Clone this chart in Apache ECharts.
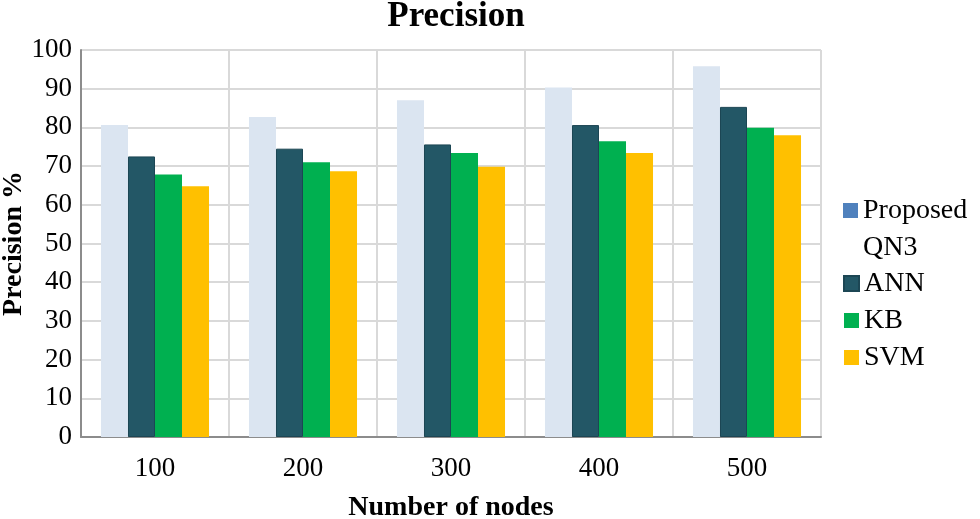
<!DOCTYPE html>
<html><head><meta charset="utf-8">
<script src="https://cdn.jsdelivr.net/npm/echarts@6/dist/echarts.min.js"></script>
<style>html,body{margin:0;padding:0;background:#fff}#c{width:980px;height:519px}</style>
</head><body><div id="c"></div>
<script>
const categories = ['100','200','300','400','500'];
const seriesNames = ['Proposed QN3','ANN','KB','SVM'];
const proposed = [80.6, 82.7, 87, 90.3, 95.8];
const ann = [72.5, 74.5, 75.6, 80.6, 85.3];
const kb = [67.8, 71, 73.4, 76.4, 79.9];
const svm = [64.8, 68.7, 69.8, 73.4, 78];
const yTicks = {min:0, max:100, interval:10};

const font = 'Liberation Serif';
const colors = ['#dbe5f1','#235766','#00b050','#ffc000'];
const legendColors = ['#4f81bd','#235766','#00b050','#ffc000'];
const values = [proposed, ann, kb, svm];

const legendText = {fontFamily:font, fontSize:28, color:'#000', lineHeight:37};
const chart = echarts.init(document.getElementById('c'));
chart.setOption({
  animation:false,
  textStyle:{fontFamily:font},
  title:{text:'Precision', left:451, textAlign:'center', top:-6,
    textStyle:{fontFamily:font, fontSize:35, fontWeight:'bold', color:'#000'}},
  legend:[
    {orient:'vertical', left:843, top:192, itemWidth:15, itemHeight:15, itemGap:0, padding:0,
     icon:'rect', formatter: () => 'Proposed', textStyle:legendText,
     data:[{name:seriesNames[0], itemStyle:{color:legendColors[0]}}]},
    {orient:'vertical', left:843, top:265, itemWidth:15, itemHeight:15, itemGap:0, padding:0,
     icon:'rect', textStyle:legendText,
     data: seriesNames.slice(1).map((n,i)=>({name:n, itemStyle:{color:legendColors[i+1]}}))}
  ],
  graphic:[{type:'text', left:863, top:234,
    style:{text:'QN3', font:'28px "Liberation Serif"', fill:'#000'}}],
  grid:{left:81, right:159, top:50, bottom:82, containLabel:false, outerBoundsMode:'none'},
  xAxis:{type:'category', data:categories,
    name:'Number of nodes', nameLocation:'middle', nameGap:57, nameMoveOverlap:false,
    nameTextStyle:{fontFamily:font, fontSize:28, fontWeight:'bold', color:'#000'},
    axisLine:{lineStyle:{color:'#8c8c8c', width:2}},
    axisTick:{show:false},
    splitLine:{show:true, lineStyle:{color:'#d9d9d9', width:2}},
    axisLabel:{fontFamily:font, fontSize:27, color:'#000', margin:18}},
  yAxis:{type:'value', min:yTicks.min, max:yTicks.max, interval:yTicks.interval,
    name:'Precision %', nameLocation:'middle', nameGap:53, nameMoveOverlap:false,
    nameTextStyle:{fontFamily:font, fontSize:28, fontWeight:'bold', color:'#000'},
    axisLine:{show:true, lineStyle:{color:'#8c8c8c', width:2}},
    axisTick:{show:false},
    splitLine:{lineStyle:{color:'#d9d9d9', width:2}},
    axisLabel:{fontFamily:font, fontSize:27, color:'#000', margin:9}},
  series: seriesNames.map((n,i)=>({
    name:n, type:'bar', data:values[i], barGap:'0%', barCategoryGap:'27%',
    itemStyle:{color:colors[i], borderColor: i===1 ? '#1c4654' : colors[i], borderWidth: i===1?1:0}
  }))
});
</script></body></html>
